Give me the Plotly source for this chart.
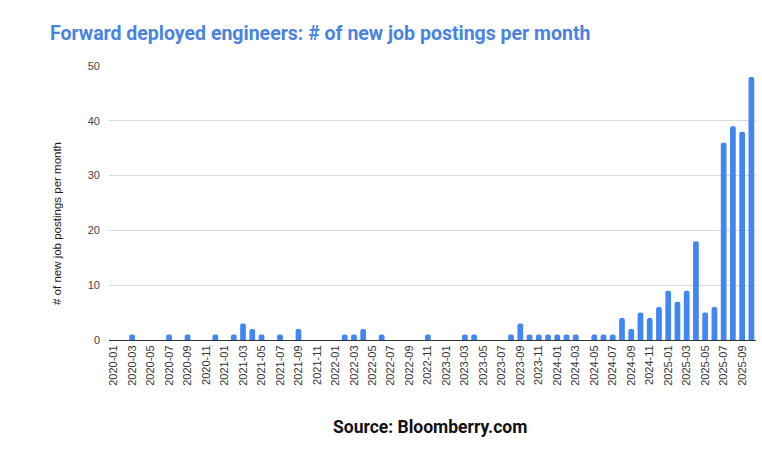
import plotly.graph_objects as go

months = [f"{y}-{m:02d}" for y in range(2020, 2026) for m in range(1, 13)][:70]
# index -> value (others 0)
nonzero = {
    2: 1, 6: 1, 8: 1, 11: 1, 13: 1, 14: 3, 15: 2, 16: 1, 18: 1, 20: 2,
    25: 1, 26: 1, 27: 2, 29: 1, 34: 1, 38: 1, 39: 1, 43: 1, 44: 3,
    45: 1, 46: 1, 47: 1, 48: 1, 49: 1, 50: 1, 52: 1, 53: 1, 54: 1,
    55: 4, 56: 2, 57: 5, 58: 4, 59: 6, 60: 9, 61: 7, 62: 9, 63: 18,
    64: 5, 65: 6, 66: 36, 67: 39, 68: 38, 69: 48,
}
postings = [nonzero.get(i, 0) for i in range(len(months))]
tick_labels = months[::2]
y_ticks = [0, 10, 20, 30, 40, 50]

fig = go.Figure(go.Bar(
    x=months, y=postings,
    marker=dict(color="#4285F4", line=dict(width=0)),
))

L, R, T, B = 109, 6, 66, 110
pw, ph = 762 - L - R, 450 - T - B

fig.update_layout(
    width=762, height=450,
    margin=dict(l=L, r=R, t=T, b=B),
    paper_bgcolor="white", plot_bgcolor="white",
    bargap=0.38,
    barcornerradius=2,
    showlegend=False,
    title=dict(
        text="Forward deployed engineers: # of new job postings per month",
        x=50 / 762, xanchor="left", xref="container",
        y=1 - 33 / 450, yanchor="middle", yref="container",
        font=dict(family="Roboto", size=19.5, color="#4a83e0", weight="bold"),
    ),
    xaxis=dict(
        type="category",
        tickmode="array", tickvals=tick_labels, ticktext=tick_labels,
        tickangle=-90,
        tickfont=dict(family="Liberation Sans, Arial", size=11, color="#333"),
        showgrid=False,
        showline=True, linecolor="#333", linewidth=1,
        ticks="",
    ),
    yaxis=dict(
        range=[0, 50],
        tickvals=y_ticks,
        tickfont=dict(family="Liberation Sans, Arial", size=11, color="#444"),
        gridcolor="#d9d9d9", gridwidth=1,
        zeroline=False,
        showline=False,
        ticks="", ticklabelstandoff=8,
    ),
    annotations=[
        dict(
            text="<b>Source: Bloomberry.com</b>",
            xref="paper", yref="paper",
            x=(430 - L) / pw, y=(340 - 427) / ph,
            xanchor="center", yanchor="middle", showarrow=False,
            font=dict(family="Roboto", size=17.5, color="#111"),
        ),
        dict(
            text="# of new job postings per month",
            xref="paper", yref="paper",
            x=(57 - L) / pw, y=(340 - 224) / ph,
            xanchor="center", yanchor="middle", showarrow=False,
            textangle=-90,
            font=dict(family="Liberation Sans, Arial", size=11.5, color="#222"),
        ),
    ],
)

fig.write_html("out.html")
